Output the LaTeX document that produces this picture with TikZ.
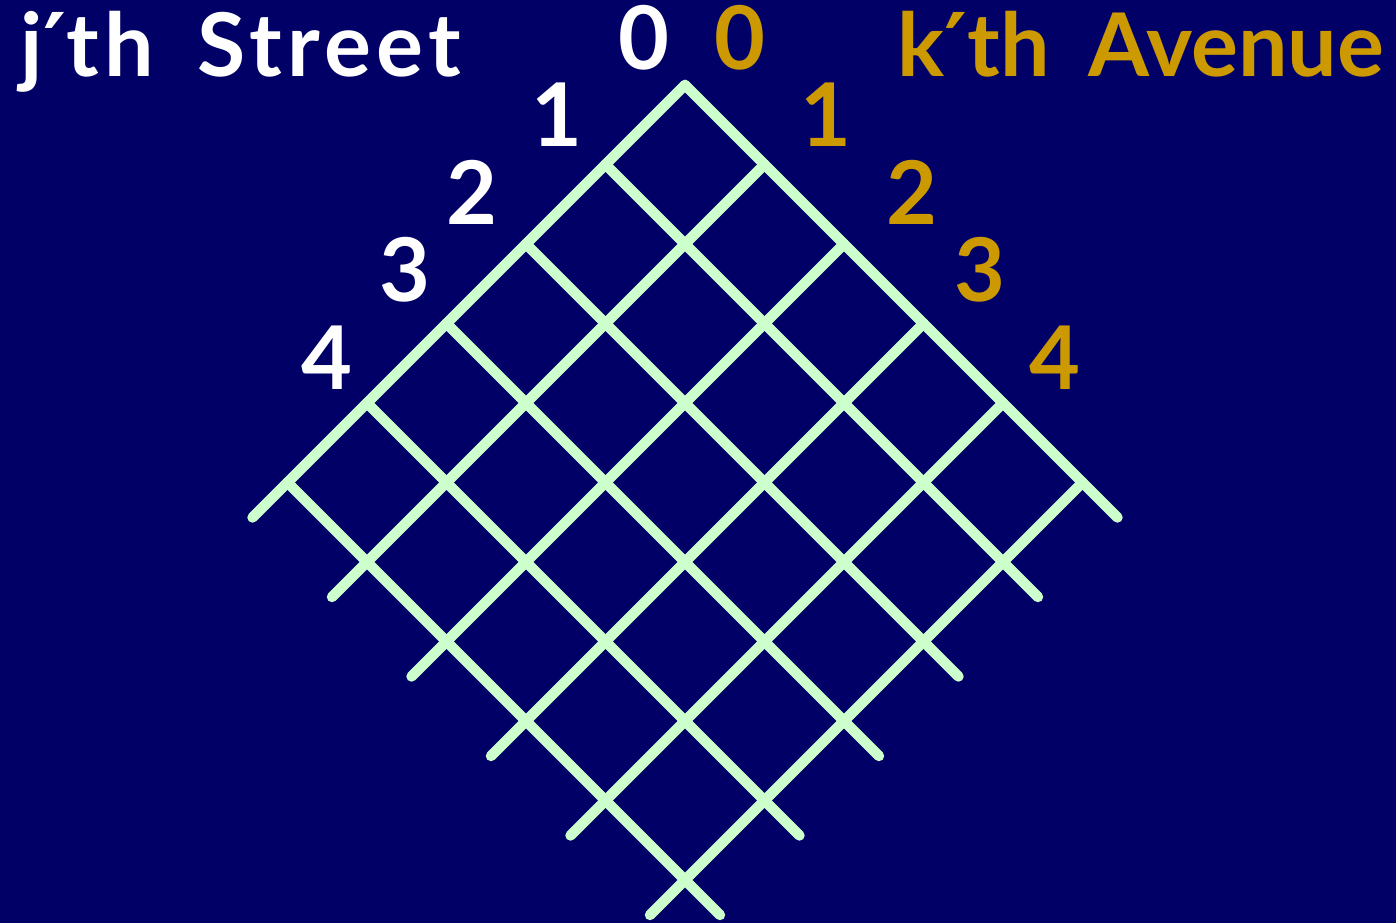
\documentclass[tikz,border=0pt]{standalone}
\usepackage{fontspec}
\setmainfont{Lato}
\newfontfamily\primefont{DejaVu Sans}
\newcommand{\tick}{{\primefont ′}}
\definecolor{navy}{HTML}{000066}
\definecolor{mint}{HTML}{CCFFCC}
\definecolor{gold}{HTML}{CC9900}

\begin{document}
\begin{tikzpicture}[
      road/.style={draw=mint, line width=1.05mm, line cap=round},  % one line of the grid
      lbl/.style={font=\bfseries\fontsize{25}{28}\selectfont, inner sep=0pt},
      street/.style={lbl, text=white},                            % street numbers, left
      avenue/.style={lbl, text=gold}]                             % avenue numbers, right
    \fill[navy] (0,0) rectangle (13.96,9.23);
    \useasboundingbox (0,0) rectangle (13.96,9.23);
    \begin{scope}[shift={(6.85,8.38)}, x={(0.795cm,-0.795cm)}, y={(-0.795cm,-0.795cm)}]
      \foreach \i in {0,...,5} {
        \draw[road] (0,\i) -- (5.44,\i);                          % streets, running down right
        \draw[road] (\i,0) -- (\i,5.44);                          % avenues, running down left
      }
    \end{scope}
    \node[street, anchor=base west] (sttl) at (0.20,8.46)
      {\addfontfeature{LetterSpace=6}j\tick th\hspace{0.2em} Street};
    \node[avenue, anchor=base east] (avtl) at (13.85,8.46) {k\tick th\hspace{0.2em} Avenue};
    \node[street, anchor=base] (s0) at (6.44,8.53) {0};
    \node[avenue, anchor=base] (a0) at (7.40,8.53) {0};
    \foreach \n/\x/\y in {1/5.57/8.08, 2/4.72/7.31, 3/4.05/6.53, 4/3.27/5.65}
      \node[street] (s\n) at (\x,\y) {\n};
    \foreach \n/\x/\y in {1/8.26/8.08, 2/9.12/7.31, 3/9.80/6.53, 4/10.55/5.65}
      \node[avenue] (a\n) at (\x,\y) {\n};
  \end{tikzpicture}
\end{document}
